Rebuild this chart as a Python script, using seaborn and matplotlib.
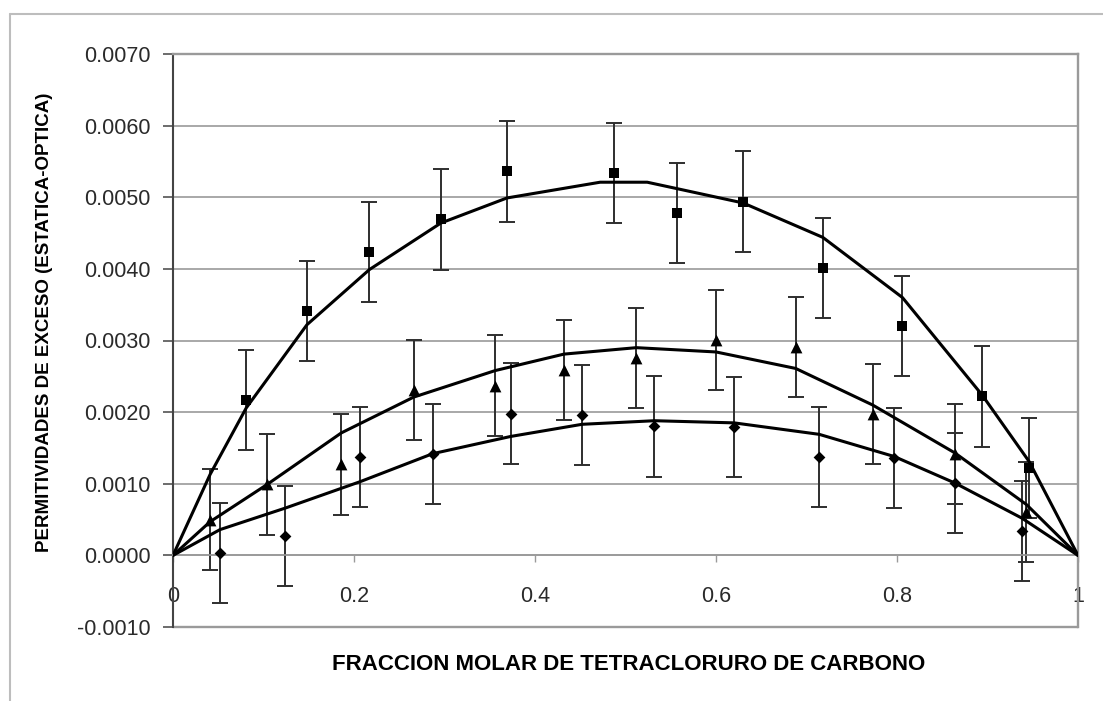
import matplotlib
matplotlib.use("Agg")
import matplotlib.pyplot as plt
from matplotlib.lines import Line2D
import seaborn as sns

# measured points, error bars are +-0.0007 for every point
X_SQ = [0.081, 0.148, 0.217, 0.296, 0.369, 0.487, 0.557, 0.630, 0.718, 0.806, 0.894, 0.946]
Y_SQ = [0.00217, 0.00341, 0.00424, 0.00469, 0.00536, 0.00534, 0.00478, 0.00494, 0.00401, 0.00320, 0.00222, 0.00122]

X_TRI = [0.041, 0.104, 0.186, 0.266, 0.356, 0.432, 0.512, 0.600, 0.688, 0.773, 0.864, 0.943]
Y_TRI = [0.00050, 0.00099, 0.00127, 0.00231, 0.00237, 0.00259, 0.00276, 0.00301, 0.00291, 0.00197, 0.00142, 0.00061]

X_DIA = [0.052, 0.124, 0.207, 0.287, 0.373, 0.452, 0.532, 0.620, 0.714, 0.797, 0.864, 0.938]
Y_DIA = [0.00003, 0.00027, 0.00137, 0.00142, 0.00198, 0.00196, 0.00180, 0.00179, 0.00137, 0.00136, 0.00101, 0.00034]

ERR = 0.0007

# fitted curves
CX_SQ = [0, 0.041, 0.081, 0.148, 0.217, 0.296, 0.369, 0.472, 0.524, 0.557, 0.630, 0.718, 0.806, 0.894, 0.946, 1]
CY_SQ = [0, 0.00113, 0.00206, 0.00322, 0.00399, 0.00464, 0.00499, 0.00521, 0.00521, 0.00512, 0.00492, 0.00444,
         0.00360, 0.00224, 0.00131, 0]

CX_TRI = [0, 0.041, 0.104, 0.186, 0.266, 0.356, 0.432, 0.512, 0.600, 0.688, 0.773, 0.864, 0.943, 1]
CY_TRI = [0, 0.00047, 0.00099, 0.00171, 0.00221, 0.00258, 0.00281, 0.00290, 0.00284, 0.00261, 0.00210, 0.00143, 0.00071, 0]

CX_DIA = [0, 0.052, 0.124, 0.207, 0.287, 0.373, 0.452, 0.532, 0.620, 0.714, 0.797, 0.864, 0.938, 1]
CY_DIA = [0, 0.00036, 0.00066, 0.00103, 0.00142, 0.00166, 0.00183, 0.00188, 0.00185, 0.00169, 0.00138, 0.00101, 0.00052, 0]

Y_TICKS = [-0.001, 0.0, 0.001, 0.002, 0.003, 0.004, 0.005, 0.006, 0.007]
Y_TICK_LABELS = ["-0.0010", "0.0000", "0.0010", "0.0020", "0.0030", "0.0040", "0.0050", "0.0060", "0.0070"]
X_TICKS = [0, 0.2, 0.4, 0.6, 0.8, 1]
X_TICK_LABELS = ["0", "0.2", "0.4", "0.6", "0.8", "1"]

GRID = "#9a9a9a"
TXT = "#2a2a2a"

sns.set_theme(style="white")
plt.rcParams["font.family"] = ["Liberation Sans", "DejaVu Sans"]

W, H = 1103, 701
fig = plt.figure(figsize=(W / 100, H / 100), dpi=100)
ax = fig.add_axes([173 / W, 1 - 627 / H, 905 / W, 573 / H])
ax.set_xlim(0, 1)
ax.set_ylim(-0.001, 0.007)

# grid / frame
ax.set_yticks(Y_TICKS, labels=Y_TICK_LABELS)
ax.set_xticks(X_TICKS, labels=X_TICK_LABELS)
ax.yaxis.grid(True, color=GRID, lw=1.2, zorder=0)
ax.axhline(-0.001, color=GRID, lw=1.7, clip_on=False, zorder=1)
ax.spines["bottom"].set_position(("data", 0))
ax.spines["bottom"].set_color(GRID)
ax.spines["bottom"].set_linewidth(1.2)
for s in ("top", "right"):
    ax.spines[s].set_color(GRID)
    ax.spines[s].set_linewidth(1.7)
ax.spines["left"].set_color("#444444")
ax.spines["left"].set_linewidth(1.5)

ax.tick_params(axis="y", direction="out", length=7, width=1.1, color="#444444",
               labelsize=15.5, labelcolor=TXT, pad=9, left=True)
ax.tick_params(axis="x", direction="out", length=5, width=1.0, color=GRID,
               labelsize=15.5, labelcolor=TXT, pad=17, bottom=True)

# error bars
for xs, ys in ((X_SQ, Y_SQ), (X_TRI, Y_TRI), (X_DIA, Y_DIA)):
    ax.errorbar(xs, ys, yerr=ERR, fmt="none", ecolor="#2e2e2e", elinewidth=1.4,
                capsize=5.5, capthick=1.4, zorder=2)

# fitted curves
for cx, cy in ((CX_SQ, CY_SQ), (CX_TRI, CY_TRI), (CX_DIA, CY_DIA)):
    sns.lineplot(x=cx, y=cy, ax=ax, color="black", lw=2.2, estimator=None, sort=False, zorder=3)

# markers
sns.scatterplot(x=X_SQ, y=Y_SQ, ax=ax, marker="s", s=60, color="black", linewidth=0, zorder=4)
sns.scatterplot(x=X_TRI, y=Y_TRI, ax=ax, marker="^", s=72, color="black", linewidth=0, zorder=4)
sns.scatterplot(x=X_DIA, y=Y_DIA, ax=ax, marker="D", s=36, color="black", linewidth=0, zorder=4)

ax.set_xlabel("")
ax.set_ylabel("")

fig.text(45 / W, 1 - 322 / H, "PERMITIVIDADES DE EXCESO (ESTATICA-OPTICA)", rotation=90,
         ha="center", va="center", fontsize=13.5, fontweight="bold", color="black")
fig.text(629 / W, 1 - 665 / H, "FRACCION MOLAR DE TETRACLORURO DE CARBONO",
         ha="center", va="center", fontsize=16, fontweight="bold", color="black")

# outer chart border (only top and left show in the picture)
fig.add_artist(Line2D([10 / W, 10 / W], [0, 1 - 14 / H], transform=fig.transFigure, color="#bdbdbd", lw=1.5))
fig.add_artist(Line2D([10 / W, 1], [1 - 14 / H, 1 - 14 / H], transform=fig.transFigure, color="#bdbdbd", lw=1.5))

fig.savefig("out.png", dpi=100, facecolor="white")
